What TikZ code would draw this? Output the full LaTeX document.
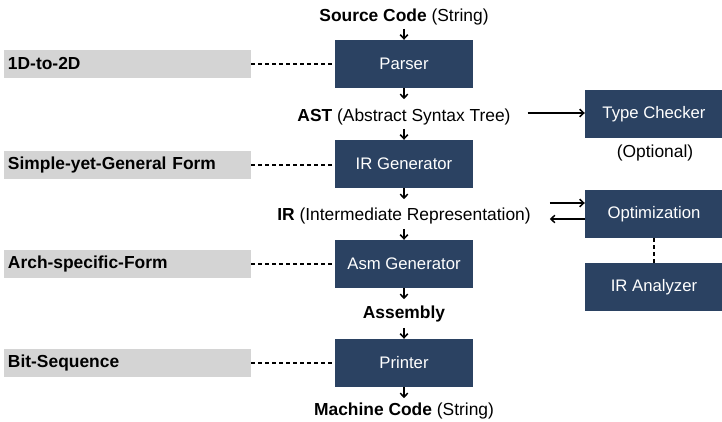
\documentclass[tikz,border=0pt]{standalone}
\usepackage{fontspec}
\setmainfont{Liberation Sans}
\usetikzlibrary{arrows.meta}
\definecolor{navy}{HTML}{2B4262}
\definecolor{band}{HTML}{D4D4D4}
\tikzset{
  stage/.style={fill=navy, text=white, minimum width=138pt, minimum height=48pt, inner sep=0pt,
    font=\fontsize{16.7}{19}\selectfont},
  tag/.style={fill=band, minimum width=247pt, minimum height=28pt, inner sep=0pt, text width=239pt,
    align=left, font=\fontsize{17.4}{19}\selectfont\bfseries},
  lbl/.style={inner sep=0pt, font=\fontsize{17.4}{19}\selectfont},
  flow/.style={line width=1.5pt, -{Straight Barb[length=4pt,width=7.5pt,line width=1.5pt]}},
  link/.style={line width=1.2pt, dash pattern=on 4pt off 3pt}
}
\begin{document}
\begin{tikzpicture}[x=1pt,y=-1pt]
\useasboundingbox (0,0) rectangle (722,422);

% main pipeline
\node[stage] (parser) at (404,64) {Parser};
\node[stage] (irgen)  at (404,164) {IR Generator};
\node[stage] (asmgen) at (404,264) {Asm Generator};
\node[stage] (printer) at (404,363) {Printer};

% intermediate products
\node[lbl] (src) at (404,17) {\textbf{Source Code} (String)};
\node[lbl] (ast) at (404,117) {\textbf{AST} (Abstract Syntax Tree)};
\node[lbl] (ir)  at (404,216) {\textbf{IR} (Intermediate Representation)};
\node[lbl] (asm) at (404,314) {\textbf{Assembly}};
\node[lbl] (mc)  at (404,411) {\textbf{Machine Code} (String)};

% side tools
\node[stage] (tc)  at (654,114) {Type Checker};
\node[lbl]   (opt) at (655,153) {(Optional)};
\node[stage] (optim) at (654,214) {Optimization};
\node[stage] (ana) at (654,287) {IR Analyzer};

% representation forms
\node[tag] (f1) at (127.5,64) {1D-to-2D};
\node[tag] (f2) at (127.5,165) {Simple-yet-General Form};
\node[tag] (f3) at (127.5,264) {Arch-specific-Form};
\node[tag] (f4) at (127.5,363) {Bit-Sequence};

% short arrows into and out of each stage
\foreach \s in {parser,irgen,asmgen,printer}{
  \draw[flow] (\s.north) ++(0,-11) -- (\s.north);
  \draw[flow] (\s.south) -- ++(0,11);
}

% links to side tools
\draw[flow] (ast.east) ++(17,-4) -- (tc.west |- 0,113);
\draw[flow] (ir.east) ++(19,-13) -- (optim.west |- 0,203);
\draw[flow] (optim.west |- 0,219) -- ++(-35,0);
\draw[link] (optim.south) -- (ana.north);

% dashed links to forms
\draw[link] (f1.east) -- (parser.west);
\draw[link] (f2.east) -- (irgen.west |- f2.east);
\draw[link] (f3.east) -- (asmgen.west);
\draw[link] (f4.east) -- (printer.west);
\end{tikzpicture}
\end{document}
